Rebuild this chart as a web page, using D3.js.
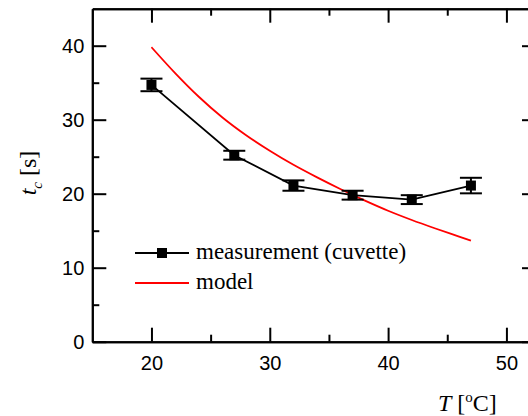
<!DOCTYPE html>
<html>
<head>
<meta charset="utf-8">
<script src="https://d3js.org/d3.v7.min.js"></script>
<style>
  body { margin: 0; background: #fff; }
</style>
</head>
<body>
<div id="plot"></div>
<script>
// Measurement (cuvette)
var measT = [20, 27, 32, 37, 42, 47];
var measY = [34.7, 25.2, 21.1, 19.8, 19.2, 21.1];
var measErr = [0.85, 0.6, 0.7, 0.6, 0.6, 1.05];

// Model curve
var modelT = [20, 22, 24, 26, 28, 30, 32, 34, 36, 38, 40, 42, 44, 46, 47];
var modelY = [39.8, 36.3, 33.1, 30.3, 27.9, 25.8, 23.9, 22.2, 20.6, 19.1, 17.7, 16.45, 15.3, 14.2, 13.65];

// Ticks
var xMajor = [20, 30, 40, 50];
var xMinor = [25, 35, 45];
var yMajor = [0, 10, 20, 30, 40];
var yMinor = [5, 15, 25, 35];

var legendLabels = ["measurement (cuvette)", "model"];

var width = 528, height = 416;
var sans = "Liberation Sans, Arial, sans-serif";
var serif = "Liberation Serif, Times New Roman, serif";

var svg = d3.select("#plot")
    .append("svg")
        .attr("width", width)
        .attr("height", height);

var x = d3.scaleLinear().domain([15, 52.5]).range([92.3, 536]);
var y = d3.scaleLinear().domain([0, 45]).range([341.7, 8.7]);

function addAxis(gen, transform, values, size, labels, padding) {
    // Inward ticks, labels only on the left and bottom
    var g = svg.append("g")
        .attr("transform", transform)
        .call(gen.tickValues(values).tickSizeInner(-size).tickSizeOuter(0)
            .tickPadding(padding || 0)
            .tickFormat(labels ? d3.format("d") : ""));
    g.select(".domain").attr("stroke-width", 2).attr("stroke", "#000");
    g.selectAll(".tick line").attr("stroke-width", 2).attr("stroke", "#000");
    g.selectAll("text").attr("font-family", sans).style("font-size", "20px").attr("fill", "#000");
    return g;
}

// Bottom / left with labels
addAxis(d3.axisBottom(x), `translate(0,${y(0)})`, xMajor, 14, true, 14);
addAxis(d3.axisBottom(x), `translate(0,${y(0)})`, xMinor, 7, false);
addAxis(d3.axisLeft(y), `translate(${x(15)},0)`, yMajor, 14, true, 8);
addAxis(d3.axisLeft(y), `translate(${x(15)},0)`, yMinor, 7, false);
// Top / right mirrors
addAxis(d3.axisTop(x), `translate(0,${y(45)})`, xMajor, 14, false);
addAxis(d3.axisTop(x), `translate(0,${y(45)})`, xMinor, 7, false);
addAxis(d3.axisRight(y), `translate(${x(52.5)},0)`, yMajor, 14, false);
addAxis(d3.axisRight(y), `translate(${x(52.5)},0)`, yMinor, 7, false);

// Model curve
var modelData = modelT.map((t, i) => ({ x: t, y: modelY[i] }));
svg.append("path")
    .datum(modelData)
    .attr("fill", "none")
    .attr("stroke", "#ff0000")
    .attr("stroke-width", 1.8)
    .attr("d", d3.line()
        .x(d => x(d.x))
        .y(d => y(d.y))
        .curve(d3.curveMonotoneX));

// Measurement line
var measData = measT.map((t, i) => ({ x: t, y: measY[i], e: measErr[i] }));
svg.append("path")
    .datum(measData)
    .attr("fill", "none")
    .attr("stroke", "#000")
    .attr("stroke-width", 1.8)
    .attr("d", d3.line().x(d => x(d.x)).y(d => y(d.y)));

// Error bars
var capW = 11;
var bars = svg.append("g").selectAll("g")
    .data(measData)
    .enter()
    .append("g")
    .attr("stroke", "#000")
    .attr("stroke-width", 2);
bars.append("line")
    .attr("x1", d => x(d.x)).attr("x2", d => x(d.x))
    .attr("y1", d => y(d.y + d.e)).attr("y2", d => y(d.y - d.e));
bars.append("line")
    .attr("x1", d => x(d.x) - capW).attr("x2", d => x(d.x) + capW)
    .attr("y1", d => y(d.y + d.e)).attr("y2", d => y(d.y + d.e));
bars.append("line")
    .attr("x1", d => x(d.x) - capW).attr("x2", d => x(d.x) + capW)
    .attr("y1", d => y(d.y - d.e)).attr("y2", d => y(d.y - d.e));

// Square markers
svg.append("g")
    .selectAll("rect")
    .data(measData)
    .enter()
    .append("rect")
    .attr("x", d => x(d.x) - 5)
    .attr("y", d => y(d.y) - 5)
    .attr("width", 10)
    .attr("height", 10)
    .attr("fill", "#000");

// Legend
function addLegendEntry(ly, color, label, marker) {
    svg.append("line")
        .attr("x1", 135).attr("x2", 189)
        .attr("y1", ly).attr("y2", ly)
        .attr("stroke", color)
        .attr("stroke-width", 1.8);
    if (marker) {
        svg.append("rect")
            .attr("x", 162 - 5).attr("y", ly - 5)
            .attr("width", 10).attr("height", 10)
            .attr("fill", color);
    }
    svg.append("text")
        .attr("font-family", serif)
        .style("font-size", "23px")
        .attr("x", 196)
        .attr("y", ly + 6)
        .text(label);
}
addLegendEntry(253, "#000", legendLabels[0], true);
addLegendEntry(283, "#ff0000", legendLabels[1], false);

// X-axis title
var xt = svg.append("text")
    .attr("font-family", serif)
    .style("font-size", "24px")
    .attr("x", 438)
    .attr("y", 411);
xt.append("tspan").style("font-style", "italic").text("T");
xt.append("tspan").text(" [");
xt.append("tspan").attr("dy", -9).style("font-size", "15px").text("o");
xt.append("tspan").attr("dy", 9).text("C]");

// Y-axis title
var yt = svg.append("text")
    .attr("font-family", serif)
    .style("font-size", "24px")
    .attr("text-anchor", "middle")
    .attr("transform", "translate(36,173) rotate(-90)");
yt.append("tspan").style("font-style", "italic").text("t");
yt.append("tspan").attr("dy", 6).style("font-style", "italic").style("font-size", "15px").text("c");
yt.append("tspan").attr("dy", -6).text(" [s]");
</script>
</body>
</html>
